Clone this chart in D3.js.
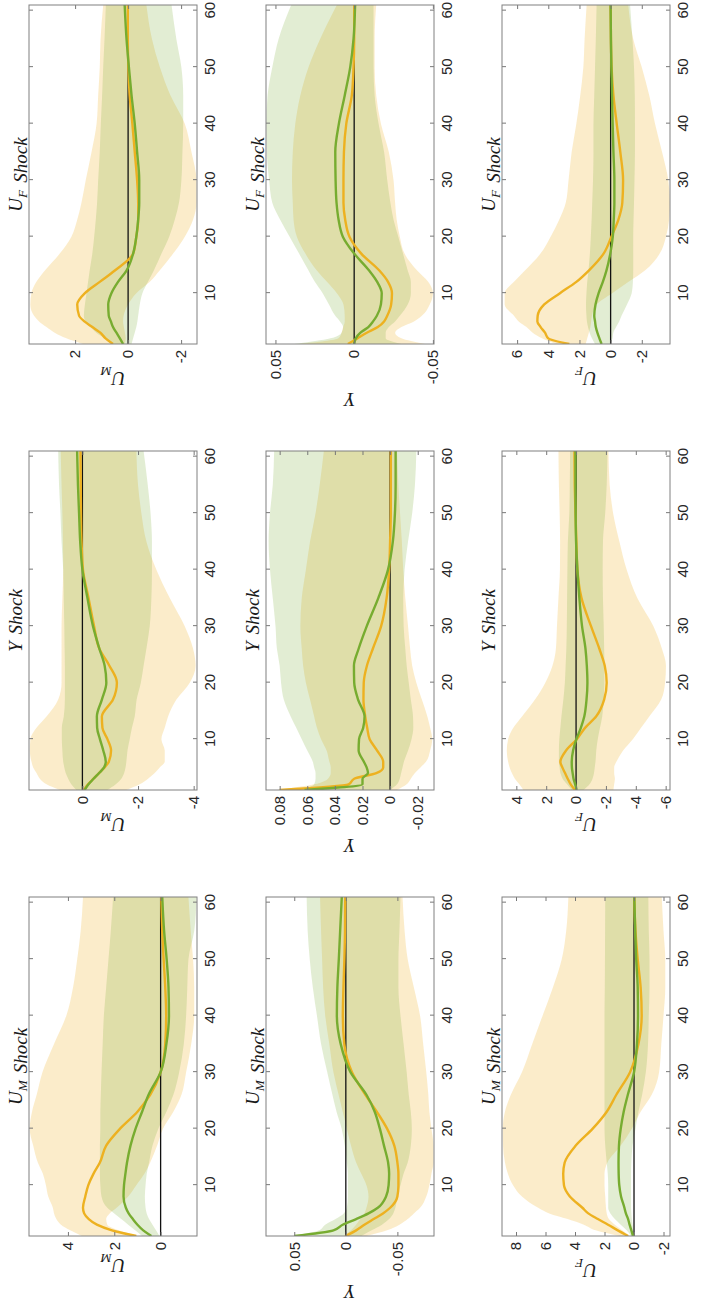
<!DOCTYPE html>
<html>
<head>
<meta charset="utf-8">
<script src="https://cdn.jsdelivr.net/npm/d3@7"></script>
<style>
    body { margin: 0; background: #fff; }
</style>
</head>
<body>
<svg id="svgFig" width="728" height="1308"></svg>
<script>

// horizons and axis ticks
var HORIZON = [1, 2, 3, 4, 5, 6, 8, 10, 12, 14, 17, 20, 23, 26, 30, 35, 40, 45, 50, 55, 61];
var X_TICKS = [10, 20, 30, 40, 50, 60];

// labels: [base, subscript]
var SHOCK_LABELS = [['U', 'M'], ['Y', ''], ['U', 'F']];
var VAR_LABELS = [['U', 'M'], ['Y', ''], ['U', 'F']];

// y limits and ticks, one entry per shock (U_M, Y, U_F)
var Y_LIMITS_UM = [[-1.57, 5.68], [-4.12, 1.92], [-2.6, 3.74]];
var Y_LIMITS_Y = [[-0.0855, 0.0774], [-0.0318, 0.0899], [-0.0507, 0.056]];
var Y_LIMITS_UF = [[-2.44, 8.95], [-6.29, 4.96], [-3.81, 6.97]];
var Y_TICKS_UM = [[0, 2, 4], [-4, -2, 0], [-2, 0, 2]];
var Y_TICKS_Y = [[-0.05, 0, 0.05], [-0.02, 0, 0.02, 0.04, 0.06, 0.08], [-0.05, 0, 0.05]];
var Y_TICKS_UF = [[-2, 0, 2, 4, 6, 8], [-6, -4, -2, 0, 2, 4], [-2, 0, 2, 4, 6]];

// response of U_M
var um_um_a   = [1.05, 2.1, 2.75, 3.1, 3.3, 3.35, 3.25, 3.12, 2.9, 2.62, 2.35, 1.75, 1.0, 0.45, 0.0, -0.2, -0.24, -0.2, -0.13, -0.07, -0.03];
var um_um_aHi = [3.4, 3.9, 4.3, 4.5, 4.6, 4.65, 4.85, 4.95, 5.08, 5.3, 5.5, 5.65, 5.55, 5.35, 5.1, 4.6, 4.07, 3.78, 3.6, 3.45, 3.35];
var um_um_aLo = [1.0, 1.8, 2.3, 2.35, 2.2, 1.9, 1.4, 1.05, 0.7, 0.45, 0.15, -0.1, -0.55, -0.9, -1.1, -1.32, -1.45, -1.45, -1.4, -1.3, -1.2];
var um_um_b   = [0.4, 0.75, 1.0, 1.2, 1.38, 1.5, 1.6, 1.58, 1.52, 1.45, 1.3, 1.08, 0.8, 0.52, 0.0, -0.25, -0.36, -0.34, -0.26, -0.15, -0.07];
var um_um_bHi = [0.8, 1.1, 1.4, 1.7, 2.0, 2.3, 2.55, 2.6, 2.62, 2.62, 2.62, 2.6, 2.6, 2.58, 2.55, 2.5, 2.45, 2.35, 2.25, 2.15, 2.05];
var um_um_bLo = [0.05, 0.2, 0.35, 0.5, 0.6, 0.65, 0.68, 0.65, 0.6, 0.5, 0.35, 0.1, -0.25, -0.55, -0.8, -1.0, -1.1, -1.15, -1.2, -1.45, -1.55];

var um_y_a   = [-0.05, -0.2, -0.4, -0.6, -0.8, -0.95, -1.03, -0.9, -0.72, -0.7, -1.1, -1.24, -0.97, -0.61, -0.42, -0.22, -0.02, 0.03, 0.05, 0.06, 0.07];
var um_y_aHi = [0.81, 1.29, 1.53, 1.65, 1.77, 1.83, 1.89, 1.87, 1.65, 1.29, 0.87, 0.75, 0.75, 0.75, 0.75, 0.72, 0.69, 0.7, 0.72, 0.75, 0.78];
var um_y_aLo = [-1.58, -2.06, -2.36, -2.6, -2.78, -2.96, -2.96, -2.84, -2.96, -3.08, -3.38, -3.86, -4.07, -3.98, -3.68, -3.14, -2.66, -2.3, -2.12, -2.0, -1.94];
var um_y_b   = [-0.08, -0.22, -0.4, -0.6, -0.78, -0.84, -0.75, -0.63, -0.53, -0.52, -0.7, -0.86, -0.8, -0.61, -0.38, -0.18, 0.0, 0.08, 0.12, 0.16, 0.19];
var um_y_bHi = [0.22, 0.4, 0.51, 0.6, 0.65, 0.69, 0.72, 0.74, 0.74, 0.67, 0.63, 0.63, 0.63, 0.64, 0.65, 0.67, 0.69, 0.75, 0.79, 0.84, 0.87];
var um_y_bLo = [-0.9, -1.2, -1.4, -1.5, -1.55, -1.58, -1.62, -1.7, -1.78, -1.88, -1.95, -2.1, -2.2, -2.3, -2.42, -2.48, -2.5, -2.5, -2.45, -2.35, -2.2];

var um_uf_a   = [0.57, 0.85, 1.05, 1.35, 1.65, 1.85, 1.92, 1.63, 1.07, 0.5, -0.19, -0.31, -0.38, -0.38, -0.34, -0.25, -0.16, -0.06, -0.01, 0.01, 0.01];
var um_uf_aHi = [1.7, 2.33, 2.77, 3.08, 3.36, 3.55, 3.69, 3.65, 3.46, 3.14, 2.58, 2.14, 1.92, 1.76, 1.6, 1.38, 1.19, 1.13, 1.07, 1.04, 0.94];
var um_uf_aLo = [0.13, 0.09, 0.12, 0.16, 0.19, 0.17, 0.0, -0.31, -0.82, -1.19, -1.7, -2.14, -2.45, -2.58, -2.58, -2.39, -2.14, -1.6, -1.2, -0.9, -0.69];
var um_uf_b   = [0.19, 0.31, 0.44, 0.57, 0.65, 0.73, 0.75, 0.63, 0.38, 0.06, -0.19, -0.31, -0.38, -0.42, -0.42, -0.34, -0.25, -0.13, -0.03, 0.06, 0.13];
var um_uf_bHi = [0.57, 0.88, 1.2, 1.42, 1.6, 1.67, 1.63, 1.57, 1.51, 1.45, 1.35, 1.28, 1.22, 1.17, 1.13, 1.07, 1.03, 0.98, 0.94, 0.89, 0.84];
var um_uf_bLo = [-0.13, -0.19, -0.25, -0.31, -0.35, -0.38, -0.44, -0.54, -0.75, -0.97, -1.26, -1.55, -1.76, -1.92, -2.01, -2.05, -2.08, -2.08, -2.01, -1.82, -1.64];

// response of Y
var y_um_a   = [0.0, -0.01, -0.018, -0.027, -0.036, -0.043, -0.05, -0.051, -0.051, -0.05, -0.047, -0.04, -0.03, -0.019, -0.006, 0.0015, 0.0029, 0.0023, 0.0014, 0.0008, 0.0006];
var y_um_aHi = [0.002, -0.005, -0.01, -0.014, -0.018, -0.02, -0.022, -0.02, -0.015, -0.01, -0.005, -0.001, 0.003, 0.007, 0.012, 0.016, 0.02, 0.022, 0.023, 0.024, 0.025];
var y_um_aLo = [-0.02, -0.04, -0.052, -0.06, -0.066, -0.072, -0.078, -0.081, -0.083, -0.085, -0.085, -0.083, -0.081, -0.08, -0.078, -0.075, -0.072, -0.066, -0.06, -0.057, -0.055];
var y_um_b   = [0.05, 0.012, 0.003, -0.01, -0.022, -0.031, -0.039, -0.0415, -0.042, -0.041, -0.037, -0.033, -0.028, -0.02, -0.0045, 0.005, 0.0087, 0.0082, 0.0068, 0.0055, 0.0039];
var y_um_bHi = [0.052, 0.026, 0.02, 0.01, 0.002, -0.001, -0.002, -0.002, -0.002, -0.001, 0.001, 0.004, 0.009, 0.013, 0.018, 0.024, 0.028, 0.032, 0.035, 0.037, 0.038];
var y_um_bLo = [-0.015, -0.025, -0.035, -0.042, -0.046, -0.048, -0.05, -0.053, -0.056, -0.06, -0.063, -0.064, -0.063, -0.061, -0.059, -0.056, -0.053, -0.051, -0.051, -0.052, -0.053];

var y_y_a   = [0.08, 0.03, 0.026, 0.01, 0.005, 0.005, 0.0095, 0.0148, 0.0166, 0.018, 0.0193, 0.0191, 0.0168, 0.0125, 0.0065, 0.0025, 0.0007, 0.0, -0.0005, -0.0005, -0.0005];
var y_y_aHi = [0.082, 0.055, 0.045, 0.043, 0.043, 0.044, 0.046, 0.05, 0.053, 0.055, 0.058, 0.061, 0.063, 0.064, 0.065, 0.064, 0.061, 0.058, 0.054, 0.051, 0.048];
var y_y_aLo = [-0.005, -0.012, -0.015, -0.018, -0.022, -0.026, -0.029, -0.0305, -0.029, -0.027, -0.023, -0.019, -0.016, -0.0145, -0.013, -0.011, -0.0095, -0.0085, -0.0072, -0.006, -0.005];
var y_y_b   = [0.062, 0.02, 0.02, 0.016, 0.017, 0.019, 0.0228, 0.0225, 0.0195, 0.0185, 0.0232, 0.026, 0.0262, 0.0228, 0.0169, 0.0085, 0.0015, -0.002, -0.0035, -0.004, -0.004];
var y_y_bHi = [0.065, 0.055, 0.054, 0.054, 0.055, 0.056, 0.06, 0.064, 0.068, 0.072, 0.077, 0.079, 0.08, 0.082, 0.083, 0.085, 0.087, 0.088, 0.087, 0.085, 0.084];
var y_y_bLo = [0.0, -0.005, -0.007, -0.008, -0.009, -0.01, -0.013, -0.0155, -0.0168, -0.0166, -0.015, -0.0135, -0.012, -0.011, -0.0098, -0.0095, -0.0105, -0.013, -0.016, -0.018, -0.019];

var y_uf_a   = [0.004, -0.002, -0.008, -0.015, -0.019, -0.021, -0.0235, -0.024, -0.0215, -0.016, -0.0045, 0.003, 0.0057, 0.0068, 0.0068, 0.0065, 0.005, 0.0015, 0.0004, 0.0, 0.0];
var y_uf_aHi = [0.035, 0.01, 0.008, 0.007, 0.006, 0.006, 0.0068, 0.011, 0.0173, 0.0237, 0.031, 0.0364, 0.0385, 0.039, 0.0395, 0.039, 0.0374, 0.0342, 0.029, 0.0216, 0.011];
var y_uf_aLo = [-0.045, -0.03, -0.026, -0.03, -0.038, -0.043, -0.048, -0.05, -0.047, -0.04, -0.032, -0.029, -0.027, -0.026, -0.025, -0.022, -0.017, -0.014, -0.013, -0.013, -0.014];
var y_uf_b   = [0.0, -0.001, -0.004, -0.009, -0.012, -0.0144, -0.017, -0.0175, -0.0146, -0.0095, 0.0, 0.0072, 0.0099, 0.0112, 0.0118, 0.012, 0.0097, 0.006, 0.0025, 0.0004, -0.0006];
var y_uf_bHi = [0.038, 0.015, 0.008, 0.007, 0.009, 0.012, 0.016, 0.02, 0.025, 0.029, 0.035, 0.041, 0.047, 0.052, 0.054, 0.0555, 0.0558, 0.055, 0.052, 0.048, 0.04];
var y_uf_bLo = [-0.03, -0.02, -0.02, -0.022, -0.026, -0.029, -0.034, -0.036, -0.036, -0.034, -0.031, -0.028, -0.025, -0.023, -0.021, -0.019, -0.0155, -0.013, -0.0123, -0.0123, -0.0123];

// response of U_F
var uf_um_a   = [0.4, 1.1, 1.76, 2.45, 3.1, 3.5, 4.35, 4.75, 4.8, 4.7, 3.95, 2.8, 1.85, 1.2, 0.27, -0.3, -0.52, -0.45, -0.25, -0.1, -0.02];
var uf_um_aHi = [1.0, 2.6, 3.4, 4.5, 5.75, 6.5, 7.6, 8.2, 8.55, 8.75, 8.88, 8.9, 8.75, 8.35, 7.6, 6.9, 6.2, 5.5, 4.9, 4.6, 4.45];
var uf_um_aLo = [0.3, 0.8, 1.3, 1.7, 1.85, 1.9, 1.95, 2.0, 2.0, 1.8, 0.9, 0.15, -0.45, -1.2, -1.7, -1.85, -2.0, -2.12, -2.12, -2.0, -1.88];
var uf_um_b   = [0.07, 0.18, 0.3, 0.4, 0.55, 0.65, 0.88, 1.0, 1.04, 1.05, 1.02, 0.9, 0.7, 0.42, 0.0, -0.2, -0.27, -0.25, -0.15, -0.08, -0.02];
var uf_um_bHi = [0.2, 0.5, 0.9, 1.3, 1.6, 1.75, 1.75, 1.75, 1.78, 1.85, 1.95, 2.0, 2.0, 2.0, 2.0, 2.0, 2.0, 1.98, 1.97, 1.96, 1.95];
var uf_um_bLo = [0.0, 0.05, 0.1, 0.15, 0.18, 0.2, 0.2, 0.2, 0.2, 0.18, 0.1, -0.1, -0.3, -0.55, -0.8, -0.95, -1.0, -1.05, -1.05, -1.0, -0.97];

var uf_y_a   = [0.07, 0.36, 0.56, 0.74, 0.92, 1.05, 0.67, -0.05, -0.6, -1.34, -1.88, -2.05, -1.92, -1.56, -1.0, -0.36, -0.09, -0.02, 0.04, 0.09, 0.11];
var uf_y_aHi = [3.53, 3.8, 4.1, 4.3, 4.45, 4.55, 4.64, 4.55, 4.2, 3.62, 2.75, 2.06, 1.58, 1.35, 1.28, 1.18, 1.08, 1.07, 1.1, 1.15, 1.18];
var uf_y_aLo = [-2.5, -2.55, -2.6, -2.55, -2.55, -2.7, -3.15, -3.8, -4.35, -4.9, -5.7, -5.96, -6.02, -5.75, -5.18, -4.1, -3.39, -2.9, -2.48, -2.25, -2.17];
var uf_y_b   = [-0.04, 0.06, 0.17, 0.23, 0.28, 0.29, 0.2, -0.02, -0.32, -0.55, -0.7, -0.76, -0.72, -0.63, -0.4, -0.22, -0.09, 0.0, 0.03, 0.04, 0.04];
var uf_y_bHi = [0.3, 0.6, 0.9, 1.05, 1.1, 1.15, 1.15, 1.12, 1.05, 0.98, 0.85, 0.75, 0.7, 0.65, 0.62, 0.6, 0.58, 0.55, 0.45, 0.42, 0.4];
var uf_y_bLo = [-0.5, -0.9, -1.1, -1.2, -1.25, -1.3, -1.35, -1.45, -1.6, -1.75, -1.85, -1.9, -1.9, -1.88, -1.85, -1.8, -1.78, -1.8, -1.95, -2.05, -2.1];

var uf_uf_a   = [2.65, 4.0, 4.21, 4.49, 4.7, 4.68, 4.26, 3.25, 2.2, 1.4, 0.45, -0.05, -0.5, -0.75, -0.8, -0.62, -0.39, -0.18, -0.06, -0.02, 0.0];
var uf_uf_aHi = [3.5, 4.4, 5.0, 5.4, 5.9, 6.2, 6.8, 6.8, 6.2, 5.5, 4.5, 3.85, 3.3, 2.88, 2.7, 2.5, 2.2, 1.95, 1.75, 1.67, 1.54];
var uf_uf_aLo = [1.6, 1.5, 1.4, 1.3, 1.25, 1.2, 0.9, -0.1, -1.15, -2.2, -3.15, -3.55, -3.75, -3.8, -3.7, -3.3, -2.85, -2.48, -2.0, -1.45, -1.13];
var uf_uf_b   = [0.58, 0.72, 0.85, 0.95, 1.0, 1.05, 0.97, 0.77, 0.5, 0.27, 0.02, -0.14, -0.2, -0.24, -0.24, -0.18, -0.13, -0.09, -0.05, -0.02, 0.0];
var uf_uf_bHi = [1.0, 1.2, 1.35, 1.45, 1.52, 1.55, 1.58, 1.55, 1.5, 1.42, 1.33, 1.27, 1.22, 1.18, 1.13, 1.1, 1.1, 1.05, 1.0, 0.95, 0.9];
var uf_uf_bLo = [0.0, -0.12, -0.17, -0.35, -0.55, -0.7, -1.05, -1.35, -1.43, -1.45, -1.45, -1.45, -1.47, -1.5, -1.53, -1.56, -1.56, -1.55, -1.5, -1.4, -1.25];

// panel table: row = responding variable, col = shock
var panels = [
    {row: 0, col: 0, lim: Y_LIMITS_UM[0], ticks: Y_TICKS_UM[0], a: um_um_a, aLo: um_um_aLo, aHi: um_um_aHi, b: um_um_b, bLo: um_um_bLo, bHi: um_um_bHi},
    {row: 0, col: 1, lim: Y_LIMITS_UM[1], ticks: Y_TICKS_UM[1], a: um_y_a, aLo: um_y_aLo, aHi: um_y_aHi, b: um_y_b, bLo: um_y_bLo, bHi: um_y_bHi},
    {row: 0, col: 2, lim: Y_LIMITS_UM[2], ticks: Y_TICKS_UM[2], a: um_uf_a, aLo: um_uf_aLo, aHi: um_uf_aHi, b: um_uf_b, bLo: um_uf_bLo, bHi: um_uf_bHi},
    {row: 1, col: 0, lim: Y_LIMITS_Y[0], ticks: Y_TICKS_Y[0], a: y_um_a, aLo: y_um_aLo, aHi: y_um_aHi, b: y_um_b, bLo: y_um_bLo, bHi: y_um_bHi},
    {row: 1, col: 1, lim: Y_LIMITS_Y[1], ticks: Y_TICKS_Y[1], a: y_y_a, aLo: y_y_aLo, aHi: y_y_aHi, b: y_y_b, bLo: y_y_bLo, bHi: y_y_bHi},
    {row: 1, col: 2, lim: Y_LIMITS_Y[2], ticks: Y_TICKS_Y[2], a: y_uf_a, aLo: y_uf_aLo, aHi: y_uf_aHi, b: y_uf_b, bLo: y_uf_bLo, bHi: y_uf_bHi},
    {row: 2, col: 0, lim: Y_LIMITS_UF[0], ticks: Y_TICKS_UF[0], a: uf_um_a, aLo: uf_um_aLo, aHi: uf_um_aHi, b: uf_um_b, bLo: uf_um_bLo, bHi: uf_um_bHi},
    {row: 2, col: 1, lim: Y_LIMITS_UF[1], ticks: Y_TICKS_UF[1], a: uf_y_a, aLo: uf_y_aLo, aHi: uf_y_aHi, b: uf_y_b, bLo: uf_y_bLo, bHi: uf_y_bHi},
    {row: 2, col: 2, lim: Y_LIMITS_UF[2], ticks: Y_TICKS_UF[2], a: uf_uf_a, aLo: uf_uf_aLo, aHi: uf_uf_aHi, b: uf_uf_b, bLo: uf_uf_bLo, bHi: uf_uf_bHi}
];

var ORANGE = '#EDB120';
var GREEN = '#77AC30';
var SERIF = "'Liberation Serif', 'DejaVu Serif', serif";
var SANS = "'Liberation Sans', Arial, sans-serif";

// layout of the landscape figure (it is turned a quarter to the left afterwards)
var FIG_W = 1308;
var COL_X = [72, 518, 964];
var ROW_Y = [29, 266, 502];
var PANEL_W = 339;
var PANEL_H = 168;

var svg = d3.select('#svgFig');
var fig = svg.append('g')
    .attr('transform', 'translate(0,' + FIG_W + ') rotate(-90)');

// italic math label with optional subscript
function mathText(sel, base, sub, size) {
    sel.append('tspan').text(base);
    if (sub) {
        sel.append('tspan')
            .attr('dy', size * 0.28)
            .attr('font-size', size * 0.7)
            .text(sub);
        sel.append('tspan').attr('dy', -size * 0.28).text('');
    }
}

function drawPanel(p, idx) {
    let x0 = COL_X[p.col];
    let y0 = ROW_Y[p.row];

    let x = d3.scaleLinear().domain([1, 61]).range([x0, x0 + PANEL_W]);
    let y = d3.scaleLinear().domain(p.lim).range([y0 + PANEL_H, y0]);

    let g = fig.append('g');

    g.append('clipPath')
        .attr('id', 'clip' + idx)
        .append('rect')
        .attr('x', x0).attr('y', y0)
        .attr('width', PANEL_W).attr('height', PANEL_H);

    let plot = g.append('g').attr('clip-path', 'url(#clip' + idx + ')');

    let band = function (lo, hi) {
        return d3.area()
            .x(function (d, i) { return x(HORIZON[i]); })
            .y0(function (d, i) { return y(lo[i]); })
            .y1(function (d, i) { return y(hi[i]); })
            .curve(d3.curveMonotoneX)(HORIZON);
    };
    let line = function (vals) {
        return d3.line()
            .x(function (d, i) { return x(HORIZON[i]); })
            .y(function (d, i) { return y(vals[i]); })
            .curve(d3.curveMonotoneX)(HORIZON);
    };

    // credible bands
    plot.append('path')
        .attr('d', band(p.aLo, p.aHi))
        .style('fill', ORANGE)
        .style('fill-opacity', 0.24);
    plot.append('path')
        .attr('d', band(p.bLo, p.bHi))
        .style('fill', GREEN)
        .style('fill-opacity', 0.21);

    // zero line
    plot.append('line')
        .attr('x1', x(1)).attr('x2', x(61))
        .attr('y1', y(0)).attr('y2', y(0))
        .style('stroke', '#111')
        .style('stroke-width', 1.3);

    // median responses
    plot.append('path')
        .attr('d', line(p.a))
        .style('fill', 'none')
        .style('stroke', ORANGE)
        .style('stroke-width', 2.4);
    plot.append('path')
        .attr('d', line(p.b))
        .style('fill', 'none')
        .style('stroke', GREEN)
        .style('stroke-width', 2.4);

    // axes, ticks inward on all four sides
    g.append('g')
        .attr('transform', 'translate(0,' + (y0 + PANEL_H) + ')')
        .call(d3.axisBottom(x).tickValues(X_TICKS).tickSize(-4).tickPadding(7));
    g.append('g')
        .attr('transform', 'translate(0,' + y0 + ')')
        .call(d3.axisTop(x).tickValues(X_TICKS).tickSize(-4).tickFormat(''));
    let axL = g.append('g')
        .attr('transform', 'translate(' + x0 + ',0)')
        .call(d3.axisLeft(y).tickValues(p.ticks).tickSize(-4).tickPadding(6)
            .tickFormat(function (d) { return String(d); }));
    g.append('g')
        .attr('transform', 'translate(' + (x0 + PANEL_W) + ',0)')
        .call(d3.axisRight(y).tickValues(p.ticks).tickSize(-4).tickFormat(''));

    g.selectAll('.domain').remove();
    g.selectAll('.tick line').style('stroke', '#777');
    g.selectAll('.tick text')
        .style('font-family', SANS)
        .style('font-size', '15px')
        .style('fill', '#262626');

    // box
    g.append('rect')
        .attr('x', x0).attr('y', y0)
        .attr('width', PANEL_W).attr('height', PANEL_H)
        .style('fill', 'none')
        .style('stroke', '#808080')
        .style('stroke-width', 1);

    // title
    let lab = SHOCK_LABELS[p.col];
    let title = g.append('text')
        .attr('x', x0 + PANEL_W / 2)
        .attr('y', y0 - 7)
        .attr('text-anchor', 'middle')
        .style('font-family', SERIF)
        .style('font-style', 'italic')
        .style('font-size', '19px')
        .style('fill', '#1a1a1a');
    mathText(title, lab[0], lab[1], 19);
    title.append('tspan').attr('dx', 7).text('Shock');

    // y label, placed just outside the tick labels
    let bb = axL.node().getBBox();
    let vl = VAR_LABELS[p.row];
    let ylab = g.append('text')
        .attr('transform', 'translate(' + (x0 + bb.x - 9) + ',' + (y0 + PANEL_H / 2) + ') rotate(-90)')
        .attr('text-anchor', 'middle')
        .style('font-family', SERIF)
        .style('font-style', 'italic')
        .style('font-size', '19px')
        .style('fill', '#1a1a1a');
    mathText(ylab, vl[0], vl[1], 19);
}

panels.forEach(drawPanel);

</script>
</body>
</html>
